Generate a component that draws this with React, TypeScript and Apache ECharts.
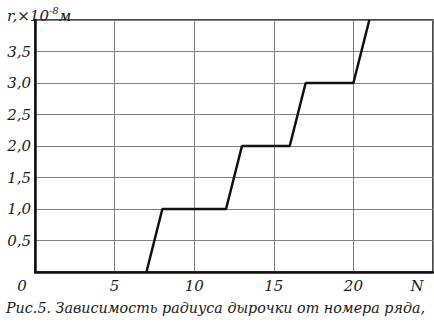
import React, { useEffect, useRef } from "react";
import * as echarts from "echarts";

const nValues = [7, 8, 12, 13, 16, 17, 20, 21];
const rValues = [0, 1, 1, 2, 2, 3, 3, 4];
const xTicks = [0, 5, 10, 15, 20, 25];
const xMaxLabel = "N";
const yLabelName = "r,×10";
const yLabelSup = "-8";
const yLabelUnit = "м";
const caption = "Рис.5. Зависимость радиуса дырочки от номера ряда,";

const FONT = "DejaVu Serif";
const TXT = "#1a1a1a";

export default function App() {
  const ref = useRef<HTMLDivElement>(null);
  useEffect(() => {
    if (!ref.current) return;
    const chart = echarts.init(ref.current, null, { renderer: "svg" });
    const data = nValues.map((n, i) => [n, rValues[i]]);
    const base = { fontFamily: FONT, fontStyle: "italic", fontWeight: "normal", color: TXT };
    chart.setOption({
      animation: false,
      backgroundColor: "#fff",
      title: [
        {
          text: `{a|${yLabelName}}{b|${yLabelSup}}{a|${yLabelUnit}}`,
          left: 2,
          top: 0,
          textStyle: {
            ...base,
            fontSize: 15,
            rich: {
              a: { ...base, fontSize: 15, verticalAlign: "bottom", lineHeight: 18 },
              b: { ...base, fontSize: 10, verticalAlign: "top", lineHeight: 18, padding: [0, 0, 8, 0] },
            },
          },
        },
        {
          text: caption,
          left: 1,
          top: 296,
          textStyle: { ...base, fontSize: 14.3 },
        },
      ],
      grid: {
        left: 35,
        right: 1,
        top: 20,
        bottom: 51,
        show: true,
        borderColor: "#111",
        borderWidth: 1.5,
        containLabel: false,
      },
      xAxis: {
        type: "value",
        min: xTicks[0],
        max: xTicks[xTicks.length - 1],
        interval: 5,
        axisLine: { show: true, lineStyle: { color: "#111", width: 2.5 } },
        axisTick: { show: false },
        splitLine: { show: true, lineStyle: { color: "#808080", width: 1 } },
        axisLabel: {
          ...base,
          fontSize: 15,
          margin: 6,
          formatter: (v: number) => {
            if (v === xTicks[0]) return `{l|${v}}`;
            if (v === xTicks[xTicks.length - 1]) return `{r|${xMaxLabel}}`;
            return String(v);
          },
          rich: {
            l: { ...base, fontSize: 15, padding: [0, 26, 0, 0] },
            r: { ...base, fontSize: 15, padding: [0, 32, 0, 0] },
          },
        },
      },
      yAxis: {
        type: "value",
        min: 0,
        max: 4,
        interval: 0.5,
        axisLine: { show: true, lineStyle: { color: "#111", width: 2.5 } },
        axisTick: { show: false },
        splitLine: { show: true, lineStyle: { color: "#808080", width: 1 } },
        axisLabel: {
          ...base,
          fontSize: 15,
          margin: 4,
          formatter: (v: number) => (v === 0 || v === 4 ? "" : v.toFixed(1).replace(".", ",")),
        },
      },
      series: [
        {
          type: "line",
          data,
          symbol: "none",
          lineStyle: { color: "#111", width: 2.5 },
          clip: true,
        },
      ],
    });
    return () => chart.dispose();
  }, []);
  return <div ref={ref} style={{ position: "fixed", left: 0, top: 0, width: 434, height: 323 }} />;
}
